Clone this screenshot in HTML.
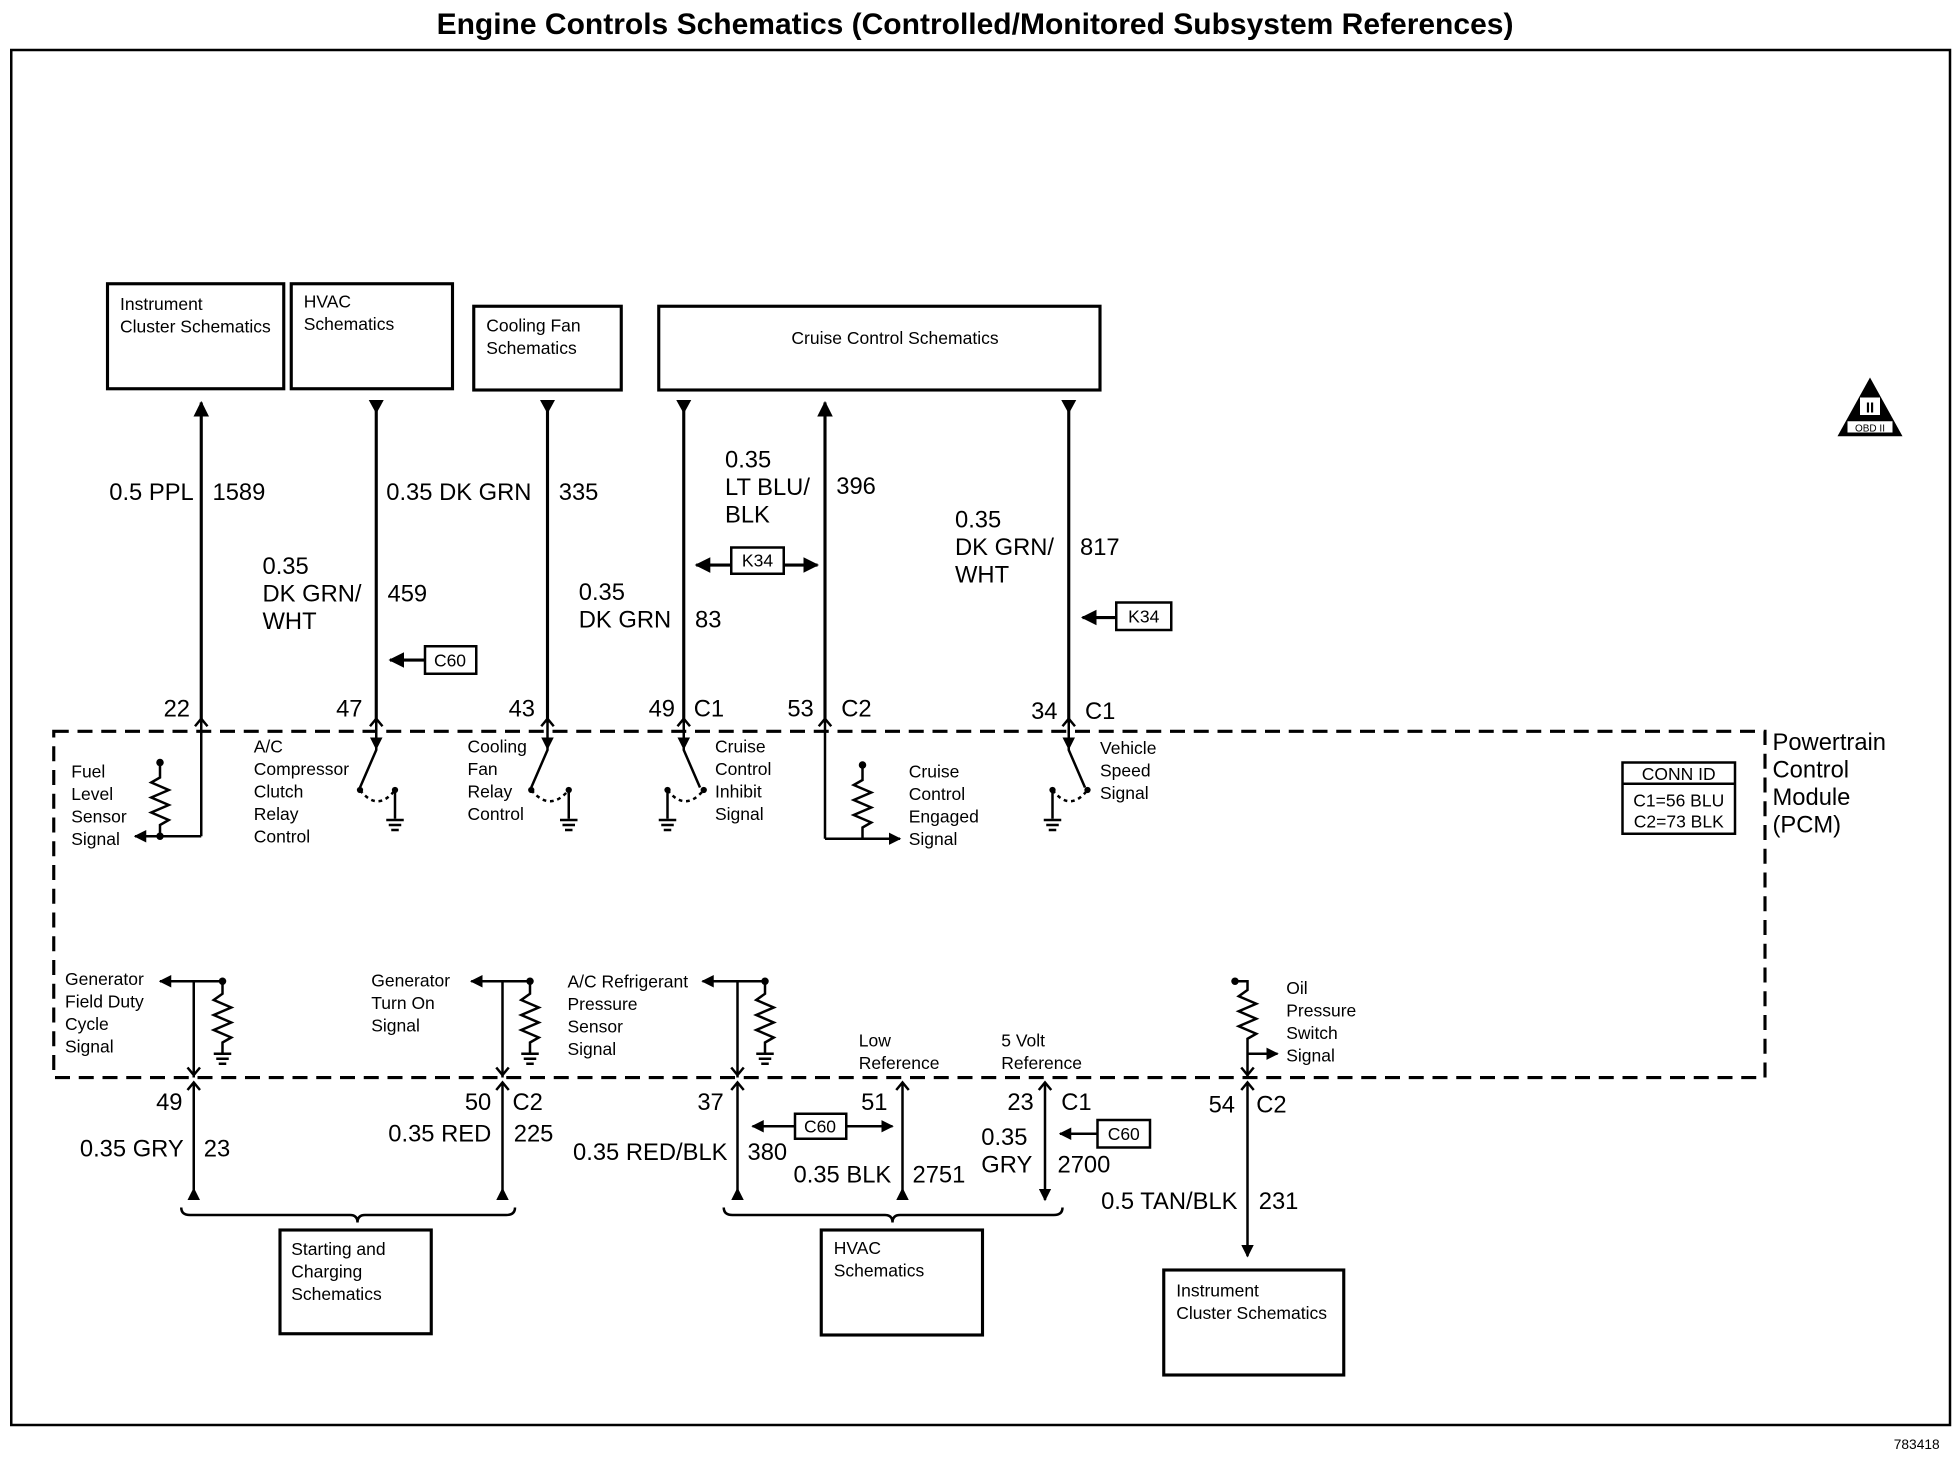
<!DOCTYPE html>
<html><head><meta charset="utf-8"><style>
html,body{margin:0;padding:0;background:#fff;}
svg{display:block;}
text{font-family:"Liberation Sans",Arial,sans-serif;fill:#000;}
.s{font-size:14px;}
.m{font-size:19px;}
</style></head><body>
<svg width="1960" height="1472" viewBox="0 0 1568 1177.6" xmlns="http://www.w3.org/2000/svg">
<defs>
<marker id="a" viewBox="0 0 10 10" refX="9" refY="5" markerWidth="5" markerHeight="5" orient="auto"><path d="M0,0L10,5L0,10z" fill="#000"/></marker>
</defs>
<text x="780" y="27" font-size="24" font-weight="bold" text-anchor="middle">Engine Controls Schematics (Controlled/Monitored Subsystem References)</text>
<rect x="9" y="40" width="1551" height="1100" fill="none" stroke="#000" stroke-width="2"/>
<text x="1515" y="1159" font-size="11">783418</text>

<g fill="none" stroke="#000" stroke-width="2.5">
<rect x="86" y="227" width="141" height="84"/>
<rect x="233" y="227" width="129" height="84"/>
<rect x="379" y="245" width="118" height="67"/>
<rect x="527" y="245" width="353" height="67"/>
<rect x="224" y="984" width="121" height="83"/>
<rect x="657" y="984" width="129" height="84"/>
<rect x="931" y="1016" width="144" height="84"/>
<rect x="43" y="585" width="1369" height="277" stroke-dasharray="12,7"/>
<rect x="1298" y="610" width="90" height="57" stroke-width="2"/>
<line x1="1298" y1="627" x2="1388" y2="627" stroke-width="2"/>
</g>
<g class="s">
<text x="96" y="248">Instrument</text><text x="96" y="266">Cluster Schematics</text>
<text x="243" y="246">HVAC</text><text x="243" y="264">Schematics</text>
<text x="389" y="265">Cooling Fan</text><text x="389" y="283">Schematics</text>
<text x="716" y="275" text-anchor="middle">Cruise Control Schematics</text>
<text x="233" y="1004">Starting and</text><text x="233" y="1022">Charging</text><text x="233" y="1040">Schematics</text>
<text x="667" y="1003">HVAC</text><text x="667" y="1021">Schematics</text>
<text x="941" y="1037">Instrument</text><text x="941" y="1055">Cluster Schematics</text>
<text x="1343" y="624" text-anchor="middle">CONN ID</text>
<text x="1343" y="645" text-anchor="middle">C1=56 BLU</text>
<text x="1343" y="662" text-anchor="middle">C2=73 BLK</text>
</g>
<g class="m">
<text x="1418" y="600">Powertrain</text><text x="1418" y="622">Control</text><text x="1418" y="644">Module</text><text x="1418" y="666">(PCM)</text>
</g>
<path d="M1496,302L1522,349L1470,349Z" fill="#000"/>
<rect x="1488" y="318" width="16" height="14" fill="#fff"/>
<text x="1496" y="330" font-size="12" text-anchor="middle" font-weight="bold">II</text>
<rect x="1478" y="337" width="36" height="9" fill="#fff"/>
<text x="1496" y="345" font-size="8" text-anchor="middle">OBD II</text>

<g stroke="#000" stroke-width="2.5" fill="none">
<line x1="161" y1="578" x2="161" y2="322" marker-end="url(#a)"/>
<line x1="301" y1="322" x2="301" y2="578"/>
<line x1="438" y1="322" x2="438" y2="578"/>
<line x1="547" y1="322" x2="547" y2="578"/>
<line x1="660" y1="578" x2="660" y2="322" marker-end="url(#a)"/>
<line x1="855" y1="322" x2="855" y2="578"/>
<line x1="340" y1="528" x2="312" y2="528" marker-end="url(#a)"/>
<line x1="585" y1="452" x2="557" y2="452" marker-end="url(#a)"/>
<line x1="627" y1="452" x2="654" y2="452" marker-end="url(#a)"/>
<line x1="893" y1="494" x2="866" y2="494" marker-end="url(#a)"/>
</g>
<g fill="#000">
<path d="M295,320L307,320L301,331Z"/><path d="M432,320L444,320L438,331Z"/><path d="M541,320L553,320L547,331Z"/><path d="M849,320L861,320L855,331Z"/>
</g>
<g fill="#fff" stroke="#000" stroke-width="2">
<rect x="340" y="517" width="41" height="22"/><rect x="585" y="438" width="42" height="21"/><rect x="893" y="482" width="44" height="22"/>
<rect x="636" y="891" width="41" height="20"/><rect x="878" y="896" width="42" height="22"/>
</g>
<g class="s" text-anchor="middle">
<text x="360" y="533">C60</text><text x="606" y="453">K34</text><text x="915" y="498">K34</text>
<text x="656" y="906">C60</text><text x="899" y="912">C60</text>
</g>
<g class="m">
<text x="155" y="400" text-anchor="end">0.5 PPL</text><text x="170" y="400">1589</text>
<text x="309" y="400">0.35 DK GRN</text><text x="447" y="400">335</text>
<text x="210" y="459">0.35</text><text x="210" y="481">DK GRN/</text><text x="210" y="503">WHT</text><text x="310" y="481">459</text>
<text x="463" y="480">0.35</text><text x="463" y="502">DK GRN</text><text x="556" y="502">83</text>
<text x="580" y="374">0.35</text><text x="580" y="396">LT BLU/</text><text x="580" y="418">BLK</text><text x="669" y="395">396</text>
<text x="764" y="422">0.35</text><text x="764" y="444">DK GRN/</text><text x="764" y="466">WHT</text><text x="864" y="444">817</text>
<text x="152" y="573" text-anchor="end">22</text>
<text x="290" y="573" text-anchor="end">47</text>
<text x="428" y="573" text-anchor="end">43</text>
<text x="540" y="573" text-anchor="end">49</text><text x="555" y="573">C1</text>
<text x="651" y="573" text-anchor="end">53</text><text x="673" y="573">C2</text>
<text x="846" y="575" text-anchor="end">34</text><text x="868" y="575">C1</text>
<text x="146" y="888" text-anchor="end">49</text>
<text x="393" y="888" text-anchor="end">50</text><text x="410" y="888">C2</text>
<text x="579" y="888" text-anchor="end">37</text>
<text x="710" y="888" text-anchor="end">51</text>
<text x="827" y="888" text-anchor="end">23</text><text x="849" y="888">C1</text>
<text x="988" y="890" text-anchor="end">54</text><text x="1005" y="890">C2</text>
<text x="147" y="925" text-anchor="end">0.35 GRY</text><text x="163" y="925">23</text>
<text x="393" y="913" text-anchor="end">0.35 RED</text><text x="411" y="913">225</text>
<text x="582" y="928" text-anchor="end">0.35 RED/BLK</text><text x="598" y="928">380</text>
<text x="713" y="946" text-anchor="end">0.35 BLK</text><text x="730" y="946">2751</text>
<text x="785" y="916">0.35</text><text x="785" y="938">GRY</text><text x="846" y="938">2700</text>
<text x="990" y="967" text-anchor="end">0.5 TAN/BLK</text><text x="1007" y="967">231</text>
</g>

<g stroke="#000" stroke-width="2" fill="none">
<path d="M156,581L161,575L166,581M296,581L301,575L306,581M433,581L438,575L443,581M542,581L547,575L552,581M655,581L660,575L665,581M850,581L855,575L860,581"/>
<line x1="161" y1="578" x2="161" y2="669"/>
<line x1="161" y1="669" x2="108" y2="669" marker-end="url(#a)"/>
<path d="M128,610V622L121,626L135,632L121,638L135,644L121,650L135,656L128,660V669"/>
<path d="M301,578V600L288,630"/><path d="M288,632Q302,650 316,632" stroke-dasharray="3,3"/><line x1="316" y1="632" x2="316" y2="655"/>
<path d="M438,578V600L425,630"/><path d="M425,632Q440,650 455,632" stroke-dasharray="3,3"/><line x1="455" y1="632" x2="455" y2="655"/>
<path d="M547,578V600L560,630"/><path d="M534,632Q548,650 563,632" stroke-dasharray="3,3"/><line x1="534" y1="632" x2="534" y2="655"/>
<path d="M855,578V600L868,630"/><path d="M842,632Q856,650 870,632" stroke-dasharray="3,3"/><line x1="842" y1="632" x2="842" y2="655"/>
<line x1="660" y1="578" x2="660" y2="671"/>
<line x1="660" y1="671" x2="720" y2="671" marker-end="url(#a)"/>
<path d="M690,612V624L683,628L697,634L683,640L697,646L683,652L697,658L690,662V671"/>
<path d="M150,854L155,860L160,854M397,854L402,860L407,854M585,854L590,860L595,854M993,854L998,860L1003,854"/>
<path d="M150,872L155,866L160,872M397,872L402,866L407,872M585,872L590,866L595,872M717,872L722,866L727,872M831,872L836,866L841,872M993,872L998,866L1003,872"/>
<line x1="155" y1="785" x2="155" y2="862"/><line x1="178" y1="785" x2="128" y2="785" marker-end="url(#a)"/>
<path d="M178,785V795L171,800L185,806L171,812L185,818L171,824L185,830L178,834V842"/>
<line x1="402" y1="785" x2="402" y2="862"/><line x1="424" y1="785" x2="377" y2="785" marker-end="url(#a)"/>
<path d="M424,785V795L417,800L431,806L417,812L431,818L417,824L431,830L424,834V842"/>
<line x1="590" y1="785" x2="590" y2="862"/><line x1="612" y1="785" x2="562" y2="785" marker-end="url(#a)"/>
<path d="M612,785V795L605,800L619,806L605,812L619,818L605,824L619,830L612,834V842"/>
<path d="M988,785H998V792L991,797L1005,803L991,809L1005,815L991,821L1005,827L998,831V862"/>
<line x1="998" y1="843" x2="1022" y2="843" marker-end="url(#a)"/>
<line x1="155" y1="866" x2="155" y2="960"/><line x1="402" y1="866" x2="402" y2="960"/>
<line x1="590" y1="866" x2="590" y2="960"/><line x1="722" y1="866" x2="722" y2="960"/>
<line x1="836" y1="866" x2="836" y2="960" marker-end="url(#a)"/>
<line x1="998" y1="866" x2="998" y2="1005" marker-end="url(#a)"/>
<line x1="636" y1="901" x2="602" y2="901" marker-end="url(#a)"/>
<line x1="677" y1="901" x2="714" y2="901" marker-end="url(#a)"/>
<line x1="878" y1="907" x2="848" y2="907" marker-end="url(#a)"/>
<path d="M145,966Q145,972 152,972H280Q286,972 286,978Q286,972 292,972H405Q412,972 412,966"/>
<path d="M579,966Q579,972 586,972H708Q714,972 714,978Q714,972 720,972H843Q850,972 850,966"/>
</g>
<g fill="#000">
<circle cx="128" cy="610" r="3"/><circle cx="128" cy="669" r="3"/>
<circle cx="690" cy="612" r="3"/>
<circle cx="178" cy="785" r="3"/><circle cx="424" cy="785" r="3"/><circle cx="612" cy="785" r="3"/><circle cx="988" cy="785" r="3"/>
<circle cx="288" cy="632" r="2.5"/><circle cx="316" cy="632" r="2.5"/><circle cx="425" cy="632" r="2.5"/><circle cx="455" cy="632" r="2.5"/>
<circle cx="534" cy="632" r="2.5"/><circle cx="563" cy="632" r="2.5"/><circle cx="842" cy="632" r="2.5"/><circle cx="870" cy="632" r="2.5"/>
<path d="M150,960L160,960L155,950Z"/><path d="M397,960L407,960L402,950Z"/><path d="M585,960L595,960L590,950Z"/><path d="M717,960L727,960L722,950Z"/>
<path d="M296,590L306,590L301,600Z"/><path d="M433,590L443,590L438,600Z"/><path d="M542,590L552,590L547,600Z"/><path d="M850,590L860,590L855,600Z"/>
</g>
<g stroke="#000" stroke-width="2">
<path d="M309,656h14M311,660h10M313,664h6"/><path d="M448,656h14M450,660h10M452,664h6"/>
<path d="M527,656h14M529,660h10M531,664h6"/><path d="M835,656h14M837,660h10M839,664h6"/>
<path d="M171,843h14M173,847h10M175,851h6"/><path d="M417,843h14M419,847h10M421,851h6"/><path d="M605,843h14M607,847h10M609,851h6"/>
</g>
<g class="s">
<text x="57" y="622">Fuel</text><text x="57" y="640">Level</text><text x="57" y="658">Sensor</text><text x="57" y="676">Signal</text>
<text x="203" y="602">A/C</text><text x="203" y="620">Compressor</text><text x="203" y="638">Clutch</text><text x="203" y="656">Relay</text><text x="203" y="674">Control</text>
<text x="374" y="602">Cooling</text><text x="374" y="620">Fan</text><text x="374" y="638">Relay</text><text x="374" y="656">Control</text>
<text x="572" y="602">Cruise</text><text x="572" y="620">Control</text><text x="572" y="638">Inhibit</text><text x="572" y="656">Signal</text>
<text x="727" y="622">Cruise</text><text x="727" y="640">Control</text><text x="727" y="658">Engaged</text><text x="727" y="676">Signal</text>
<text x="880" y="603">Vehicle</text><text x="880" y="621">Speed</text><text x="880" y="639">Signal</text>
<text x="52" y="788">Generator</text><text x="52" y="806">Field Duty</text><text x="52" y="824">Cycle</text><text x="52" y="842">Signal</text>
<text x="297" y="789">Generator</text><text x="297" y="807">Turn On</text><text x="297" y="825">Signal</text>
<text x="454" y="790">A/C Refrigerant</text><text x="454" y="808">Pressure</text><text x="454" y="826">Sensor</text><text x="454" y="844">Signal</text>
<text x="687" y="837">Low</text><text x="687" y="855">Reference</text>
<text x="801" y="837">5 Volt</text><text x="801" y="855">Reference</text>
<text x="1029" y="795">Oil</text><text x="1029" y="813">Pressure</text><text x="1029" y="831">Switch</text><text x="1029" y="849">Signal</text>
</g>
</svg>
</body></html>
